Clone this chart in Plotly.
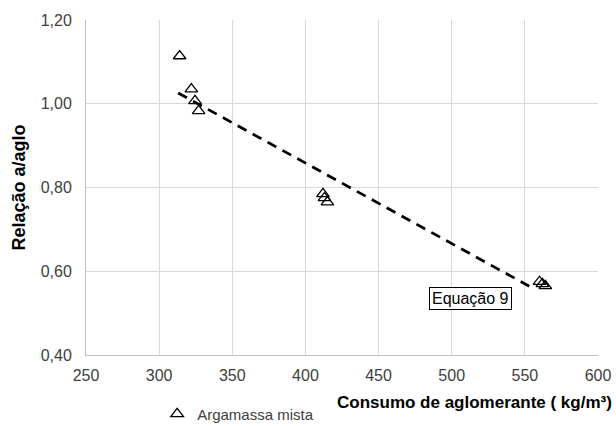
import numpy as np
import plotly.graph_objects as go

consumo = [314, 322, 324.5, 327, 412, 413, 415, 560, 562, 564]
relacao = [1.114, 1.035, 1.007, 0.983, 0.785, 0.775, 0.765, 0.575, 0.570, 0.565]
trend_range = [313, 553]
serie_nome = "Argamassa mista"
eq_label = "Equação 9"
x_title = "Consumo de aglomerante ( kg/m³)"
y_title = "Relação a/aglo"

coef = np.polyfit(consumo, relacao, 1)
trend_y = [coef[0] * v + coef[1] for v in trend_range]

FONT = "Liberation Sans, Arial, sans-serif"

fig = go.Figure()
fig.add_trace(go.Scatter(
    x=trend_range, y=trend_y, mode="lines",
    line=dict(color="black", width=2.75, dash="10px,7px"),
    showlegend=False, hoverinfo="skip"))
fig.add_trace(go.Scatter(
    x=consumo, y=relacao, mode="markers", name=serie_nome,
    marker=dict(symbol="triangle-up-open", size=11, color="black",
                line=dict(color="black", width=1.3))))

fig.add_annotation(x=512.5, y=0.534, xref="x", yref="y", text=eq_label,
                   showarrow=False, bordercolor="black", borderwidth=1,
                   borderpad=2, bgcolor="white",
                   font=dict(family=FONT, size=16, color="black"))
fig.add_annotation(x=1.031, y=-0.108, xref="paper", yref="paper",
                   text="<b>" + x_title + "</b>",
                   showarrow=False, xanchor="right", yanchor="top",
                   font=dict(family=FONT, size=17, color="black"))

fig.update_layout(
    width=616, height=426,
    margin=dict(l=86, r=18, t=20, b=71, autoexpand=False),
    paper_bgcolor="white", plot_bgcolor="white",
    font=dict(family=FONT, size=16, color="#404040"),
    showlegend=True,
    separators=",.",
    legend=dict(x=0.139, y=0.028, xanchor="left", yanchor="middle",
                yref="container",
                orientation="h", font=dict(size=15, color="#404040"),
                itemwidth=30, bgcolor="rgba(0,0,0,0)",
                tracegroupgap=0),
    xaxis=dict(range=[250, 600], dtick=50, tick0=250, showgrid=True,
               gridcolor="#d9d9d9", gridwidth=1, showline=True,
               linecolor="#bfbfbf", zeroline=False, ticks="",
               ticklabelstandoff=6,
               tickfont=dict(size=16, color="#404040")),
    yaxis=dict(range=[0.40, 1.20], dtick=0.2, tick0=0.4, showgrid=True,
               gridcolor="#d9d9d9", gridwidth=1, showline=True,
               linecolor="#bfbfbf", zeroline=False, ticks="",
               tickformat=".2f", ticklabelstandoff=10,
               title=dict(text="<b>" + y_title + "</b>",
                          font=dict(size=18, color="black"), standoff=10),
               tickfont=dict(size=16, color="#404040")),
)
fig.write_html("out.html")
